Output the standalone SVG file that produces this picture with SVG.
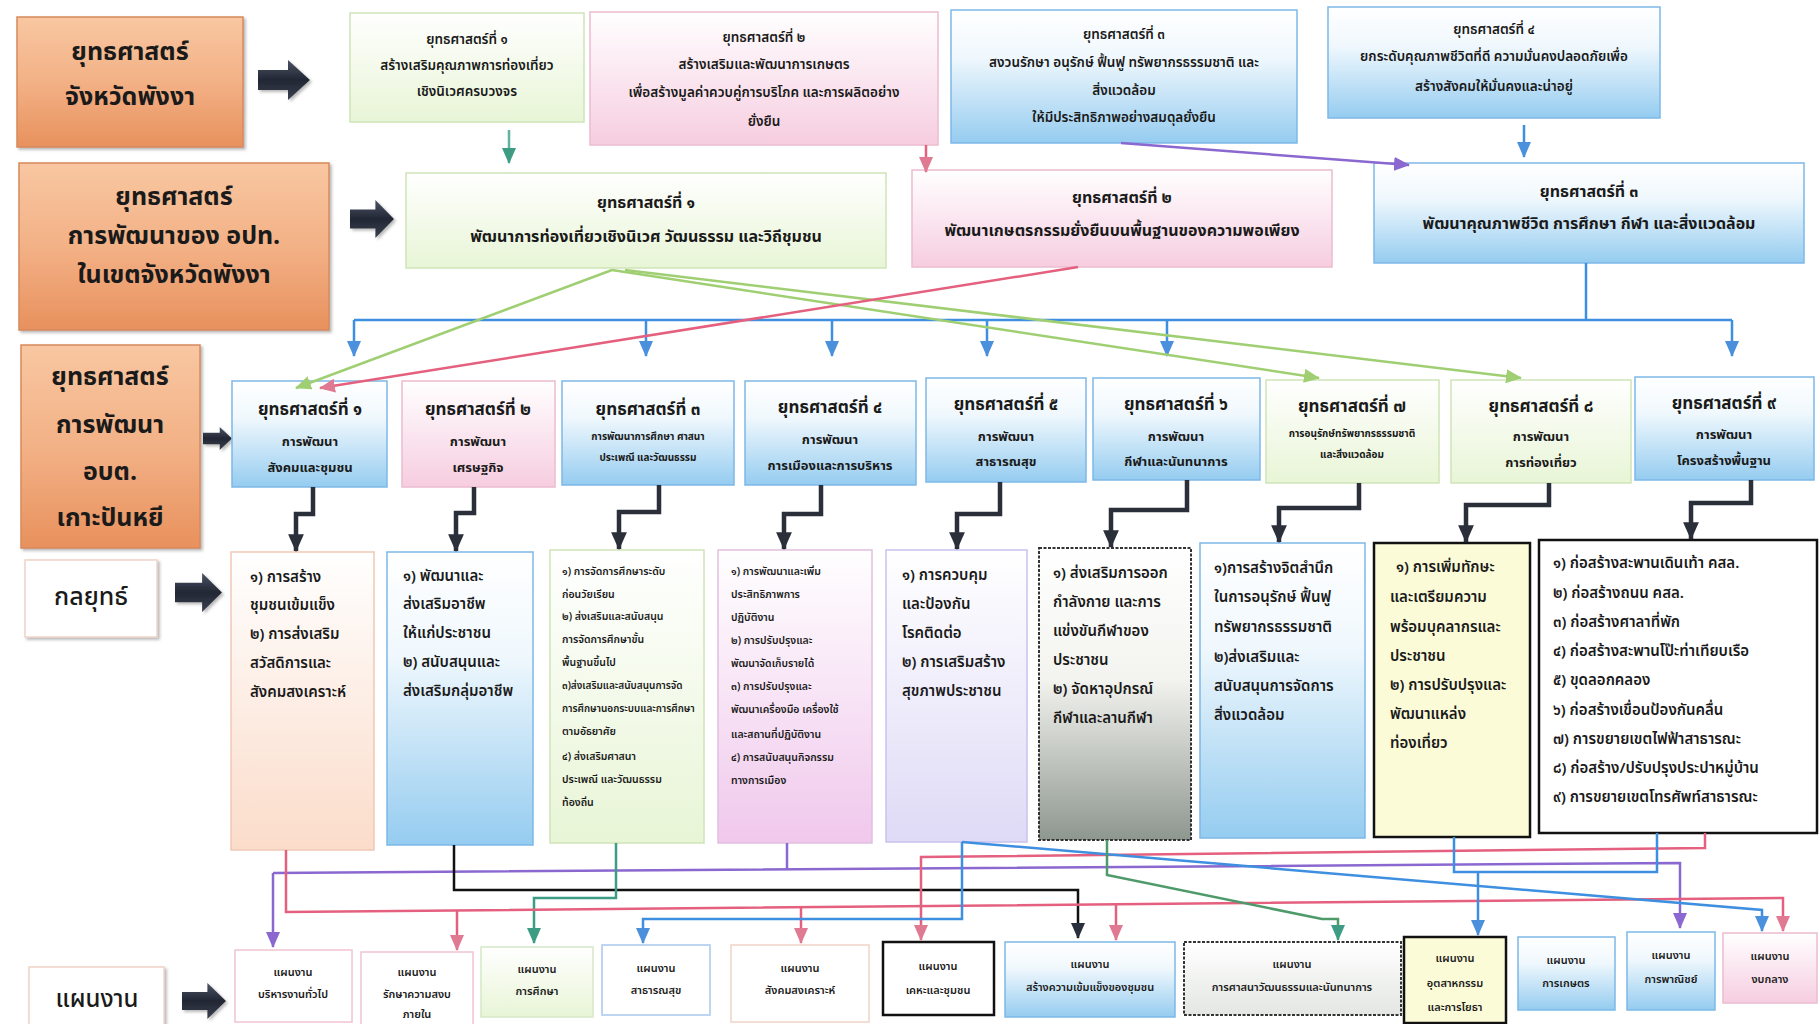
<svg xmlns="http://www.w3.org/2000/svg" width="1819" height="1024" viewBox="0 0 1819 1024">
<defs>
<style>
.t{font-family:"Noto Sans Thai","Noto Sans Thai UI","Sarabun","Loma","Garuda","Noto Sans","DejaVu Sans",sans-serif;fill:#1a1a1a;text-anchor:middle;dominant-baseline:central}
.l{text-anchor:start}
.big{font-size:25px;font-weight:bold}
.p{font-size:13.5px;font-weight:600}
.d{font-size:16px;font-weight:bold}
.st{font-size:17px;font-weight:bold}
.ss{font-size:13px;font-weight:bold}
.sx{font-size:10px;font-weight:bold}
.tx{font-size:15px;font-weight:600}
.tsm{font-size:10.5px;font-weight:600}
.bx{font-size:11px;font-weight:600}
.orange{fill:url(#gOrange);stroke:#d88a5c;stroke-width:1.5}
.blue{fill:url(#gBlue);stroke:#7db8e8;stroke-width:1.5}
.green{fill:url(#gGreen);stroke:#cfe4b8;stroke-width:1.5}
.pink{fill:url(#gPink);stroke:#ecbcd0;stroke-width:1.5}
.peach{fill:url(#gPeach);stroke:#efc9b4;stroke-width:1.5}
.lav{fill:url(#gLav);stroke:#c9c2ee;stroke-width:1.5}
.pinklav{fill:url(#gPinkLav);stroke:#e2bfe0;stroke-width:1.5}
.gray{fill:url(#gGray);stroke:#333;stroke-width:2;stroke-dasharray:3 1.5}
.grayl{fill:url(#gGrayL);stroke:#333;stroke-width:2;stroke-dasharray:3 1.5}
.yel{fill:#fbfbd8;stroke:#111;stroke-width:2.5}
.wb{fill:#fff;stroke:#111;stroke-width:2.5}
.wl{fill:#fff;stroke:#f0d4c8;stroke-width:1.5}
.wg{fill:url(#gGreen);stroke:#d6e8c8;stroke-width:1.5}
.wbl{fill:#fff;stroke:#a8c8f0;stroke-width:1.5}
.wpk{fill:#fff;stroke:#f0c4d0;stroke-width:1.5}
.c{fill:none;stroke-width:2.5}
.cb{stroke:#3f8fe0}
.cp{stroke:#e4607e}
.cg{stroke:#9fcf72}
.ct{stroke:#3e9c84}
.cv{stroke:#8a68d0}
.ck{stroke:#111}
.cdk{fill:none;stroke:#2b2f3a;stroke-width:4.5}
.arr{fill:url(#gArrow);filter:url(#sh)}
</style>
<linearGradient id="gOrange" x1="0" y1="0" x2="0" y2="1"><stop offset="0" stop-color="#f8c7a1"/><stop offset="0.5" stop-color="#f3b186"/><stop offset="1" stop-color="#e8915d"/></linearGradient>
<linearGradient id="gBlue" x1="0" y1="0" x2="0" y2="1"><stop offset="0" stop-color="#ffffff"/><stop offset="0.35" stop-color="#f0f8fd"/><stop offset="1" stop-color="#95ccf0"/></linearGradient>
<linearGradient id="gGreen" x1="0" y1="0" x2="0" y2="1"><stop offset="0" stop-color="#ffffff"/><stop offset="1" stop-color="#e8f5d6"/></linearGradient>
<linearGradient id="gPink" x1="0" y1="0" x2="0" y2="1"><stop offset="0" stop-color="#ffffff"/><stop offset="1" stop-color="#f6cde0"/></linearGradient>
<linearGradient id="gPeach" x1="0" y1="0" x2="0" y2="1"><stop offset="0" stop-color="#ffffff"/><stop offset="1" stop-color="#fbdcca"/></linearGradient>
<linearGradient id="gLav" x1="0" y1="0" x2="0" y2="1"><stop offset="0" stop-color="#ffffff"/><stop offset="1" stop-color="#dfdaf6"/></linearGradient>
<linearGradient id="gPinkLav" x1="0" y1="0" x2="0" y2="1"><stop offset="0" stop-color="#ffffff"/><stop offset="1" stop-color="#f0c8ec"/></linearGradient>
<linearGradient id="gGray" x1="0" y1="0" x2="0" y2="1"><stop offset="0" stop-color="#ffffff"/><stop offset="0.45" stop-color="#f3f3ef"/><stop offset="1" stop-color="#8e978f"/></linearGradient>
<linearGradient id="gGrayL" x1="0" y1="0" x2="0" y2="1"><stop offset="0" stop-color="#ffffff"/><stop offset="1" stop-color="#e3e6e2"/></linearGradient>
<linearGradient id="gArrow" x1="0" y1="0" x2="0" y2="1"><stop offset="0" stop-color="#4c5366"/><stop offset="0.5" stop-color="#222734"/><stop offset="1" stop-color="#3a4050"/></linearGradient>
<filter id="sh" x="-10%" y="-10%" width="130%" height="130%"><feDropShadow dx="2" dy="2" stdDeviation="1.5" flood-color="#888" flood-opacity="0.6"/></filter>
<symbol id="bigArrow" viewBox="0 0 52 40" preserveAspectRatio="none"><path d="M0,10 H30 V0 L52,20 L30,40 V30 H0 Z"/></symbol>
<marker id="mB" viewBox="0 0 16 14" refX="15" refY="7" markerWidth="16" markerHeight="14" markerUnits="userSpaceOnUse" orient="auto"><path d="M0,0 L16,7 L0,14 Z" fill="#4a90dc"/></marker>
<marker id="mP" viewBox="0 0 16 14" refX="15" refY="7" markerWidth="16" markerHeight="14" markerUnits="userSpaceOnUse" orient="auto"><path d="M0,0 L16,7 L0,14 Z" fill="#e07a92"/></marker>
<marker id="mG" viewBox="0 0 16 14" refX="15" refY="7" markerWidth="16" markerHeight="14" markerUnits="userSpaceOnUse" orient="auto"><path d="M0,0 L16,7 L0,14 Z" fill="#9fcf72"/></marker>
<marker id="mT" viewBox="0 0 16 14" refX="15" refY="7" markerWidth="16" markerHeight="14" markerUnits="userSpaceOnUse" orient="auto"><path d="M0,0 L16,7 L0,14 Z" fill="#3e9c84"/></marker>
<marker id="mV" viewBox="0 0 16 14" refX="15" refY="7" markerWidth="16" markerHeight="14" markerUnits="userSpaceOnUse" orient="auto"><path d="M0,0 L16,7 L0,14 Z" fill="#8a68d0"/></marker>
<marker id="mK" viewBox="0 0 16 14" refX="15" refY="7" markerWidth="16" markerHeight="14" markerUnits="userSpaceOnUse" orient="auto"><path d="M0,0 L16,7 L0,14 Z" fill="#2a2f3e"/></marker>
<marker id="mD" viewBox="0 0 16 14" refX="15" refY="7" markerWidth="18" markerHeight="16" markerUnits="userSpaceOnUse" orient="auto"><path d="M0,0 L16,7 L0,14 Z" fill="#2b2f3a"/></marker>
</defs>
<rect width="1819" height="1024" fill="#ffffff"/>

<!-- Row 1 -->
<g id="provLabel"><rect x="17" y="17" width="226" height="130" class="orange" filter="url(#sh)"/><text class="t big"><tspan x="130" y="52">ยุทธศาสตร์</tspan><tspan x="130" y="97">จังหวัดพังงา</tspan></text></g>
<use id="arrow1" href="#bigArrow" x="258" y="60" width="52" height="40" class="arr"/>
<g id="prov1"><rect x="350" y="13" width="234" height="109" class="green"/><text class="t p"><tspan x="467" y="40">ยุทธศาสตร์ที่ ๑</tspan><tspan x="467" y="66">สร้างเสริมคุณภาพการท่องเที่ยว</tspan><tspan x="467" y="92">เชิงนิเวศครบวงจร</tspan></text></g>
<g id="prov2"><rect x="590" y="12" width="348" height="133" class="pink"/><text class="t p"><tspan x="764" y="38">ยุทธศาสตร์ที่ ๒</tspan><tspan x="764" y="65">สร้างเสริมและพัฒนาการเกษตร</tspan><tspan x="764" y="93">เพื่อสร้างมูลค่าควบคู่การบริโภค และการผลิตอย่าง</tspan><tspan x="764" y="122">ยั่งยืน</tspan></text></g>
<g id="prov3"><rect x="951" y="10" width="346" height="133" class="blue"/><text class="t p"><tspan x="1124" y="35">ยุทธศาสตร์ที่ ๓</tspan><tspan x="1124" y="63">สงวนรักษา อนุรักษ์ ฟื้นฟู ทรัพยากรธรรมชาติ และ</tspan><tspan x="1124" y="91">สิ่งแวดล้อม</tspan><tspan x="1124" y="118">ให้มีประสิทธิภาพอย่างสมดุลยั่งยืน</tspan></text></g>
<g id="prov4"><rect x="1328" y="7" width="332" height="111" class="blue"/><text class="t p"><tspan x="1494" y="30">ยุทธศาสตร์ที่ ๔</tspan><tspan x="1494" y="57">ยกระดับคุณภาพชีวิตที่ดี ความมั่นคงปลอดภัยเพื่อ</tspan><tspan x="1494" y="87">สร้างสังคมให้มั่นคงและน่าอยู่</tspan></text></g>

<!-- Row 2 -->
<g id="lgoLabel"><rect x="19" y="163" width="310" height="167" class="orange" filter="url(#sh)"/><text class="t big"><tspan x="174" y="197">ยุทธศาสตร์</tspan><tspan x="174" y="236">การพัฒนาของ อปท.</tspan><tspan x="174" y="275">ในเขตจังหวัดพังงา</tspan></text></g>
<use id="arrow2" href="#bigArrow" x="350" y="200" width="44" height="38" class="arr"/>
<g id="lgo1"><rect x="406" y="173" width="480" height="95" class="green"/><text class="t d"><tspan x="646" y="203">ยุทธศาสตร์ที่ ๑</tspan><tspan x="646" y="237">พัฒนาการท่องเที่ยวเชิงนิเวศ วัฒนธรรม และวิถีชุมชน</tspan></text></g>
<g id="lgo2"><rect x="912" y="170" width="420" height="97" class="pink"/><text class="t d"><tspan x="1122" y="198">ยุทธศาสตร์ที่ ๒</tspan><tspan x="1122" y="231">พัฒนาเกษตรกรรมยั่งยืนบนพื้นฐานของความพอเพียง</tspan></text></g>
<g id="lgo3"><rect x="1374" y="163" width="430" height="100" class="blue"/><text class="t d"><tspan x="1589" y="192">ยุทธศาสตร์ที่ ๓</tspan><tspan x="1589" y="224">พัฒนาคุณภาพชีวิต การศึกษา กีฬา และสิ่งแวดล้อม</tspan></text></g>

<!-- Row 3 -->
<g id="sarLabel"><rect x="21" y="345" width="179" height="203" class="orange" filter="url(#sh)"/><text class="t big"><tspan x="110" y="377">ยุทธศาสตร์</tspan><tspan x="110" y="425">การพัฒนา</tspan><tspan x="110" y="472">อบต.</tspan><tspan x="110" y="518">เกาะปันหยี</tspan></text></g>
<use id="arrow3" href="#bigArrow" x="203" y="427" width="29" height="23" class="arr"/>
<g id="s1"><rect x="232" y="381" width="155" height="106" class="blue"/><text class="t"><tspan x="310" y="410" class="st">ยุทธศาสตร์ที่ ๑</tspan><tspan x="310" y="442" class="ss">การพัฒนา</tspan><tspan x="310" y="468" class="ss">สังคมและชุมชน</tspan></text></g>
<g id="s2"><rect x="402" y="381" width="153" height="106" class="pink"/><text class="t"><tspan x="478" y="410" class="st">ยุทธศาสตร์ที่ ๒</tspan><tspan x="478" y="442" class="ss">การพัฒนา</tspan><tspan x="478" y="468" class="ss">เศรษฐกิจ</tspan></text></g>
<g id="s3"><rect x="562" y="381" width="172" height="104" class="blue"/><text class="t"><tspan x="648" y="410" class="st">ยุทธศาสตร์ที่ ๓</tspan><tspan x="648" y="437" class="sx">การพัฒนาการศึกษา ศาสนา</tspan><tspan x="648" y="458" class="sx">ประเพณี และวัฒนธรรม</tspan></text></g>
<g id="s4"><rect x="745" y="381" width="171" height="104" class="blue"/><text class="t"><tspan x="830" y="408" class="st">ยุทธศาสตร์ที่ ๔</tspan><tspan x="830" y="440" class="ss">การพัฒนา</tspan><tspan x="830" y="466" class="ss">การเมืองและการบริหาร</tspan></text></g>
<g id="s5"><rect x="926" y="378" width="160" height="104" class="blue"/><text class="t"><tspan x="1006" y="405" class="st">ยุทธศาสตร์ที่ ๕</tspan><tspan x="1006" y="437" class="ss">การพัฒนา</tspan><tspan x="1006" y="462" class="ss">สาธารณสุข</tspan></text></g>
<g id="s6"><rect x="1093" y="378" width="167" height="102" class="blue"/><text class="t"><tspan x="1176" y="405" class="st">ยุทธศาสตร์ที่ ๖</tspan><tspan x="1176" y="437" class="ss">การพัฒนา</tspan><tspan x="1176" y="462" class="ss">กีฬาและนันทนาการ</tspan></text></g>
<g id="s7"><rect x="1266" y="380" width="173" height="103" class="green"/><text class="t"><tspan x="1352" y="407" class="st">ยุทธศาสตร์ที่ ๗</tspan><tspan x="1352" y="434" class="sx">การอนุรักษ์ทรัพยากรธรรมชาติ</tspan><tspan x="1352" y="455" class="sx">และสิ่งแวดล้อม</tspan></text></g>
<g id="s8"><rect x="1451" y="380" width="180" height="103" class="green"/><text class="t"><tspan x="1541" y="407" class="st">ยุทธศาสตร์ที่ ๘</tspan><tspan x="1541" y="437" class="ss">การพัฒนา</tspan><tspan x="1541" y="463" class="ss">การท่องเที่ยว</tspan></text></g>
<g id="s9"><rect x="1635" y="377" width="179" height="103" class="blue"/><text class="t"><tspan x="1724" y="404" class="st">ยุทธศาสตร์ที่ ๙</tspan><tspan x="1724" y="435" class="ss">การพัฒนา</tspan><tspan x="1724" y="461" class="ss">โครงสร้างพื้นฐาน</tspan></text></g>

<!-- Row 4 -->
<g id="tacLabel"><rect x="25" y="560" width="132" height="77" class="wl" filter="url(#sh)"/><text class="t" style="font-size:25px;font-weight:500"><tspan x="91" y="597">กลยุทธ์</tspan></text></g>
<use id="arrow4" href="#bigArrow" x="175" y="573" width="47" height="39" class="arr"/>
<g id="t1"><rect x="231" y="552" width="143" height="298" class="peach"/><text class="t l tx"><tspan x="250" y="577">๑) การสร้าง</tspan><tspan x="250" y="605">ชุมชนเข้มแข็ง</tspan><tspan x="250" y="634">๒) การส่งเสริม</tspan><tspan x="250" y="663">สวัสดิการและ</tspan><tspan x="250" y="692">สังคมสงเคราะห์</tspan></text></g>
<g id="t2"><rect x="387" y="552" width="146" height="293" class="blue"/><text class="t l tx"><tspan x="403" y="576">๑) พัฒนาและ</tspan><tspan x="403" y="604">ส่งเสริมอาชีพ</tspan><tspan x="403" y="633">ให้แก่ประชาชน</tspan><tspan x="403" y="662">๒) สนับสนุนและ</tspan><tspan x="403" y="691">ส่งเสริมกลุ่มอาชีพ</tspan></text></g>
<g id="t3"><rect x="550" y="550" width="154" height="293" class="green"/><text class="t l tsm"><tspan x="562" y="572">๑) การจัดการศึกษาระดับ</tspan><tspan x="562" y="595">ก่อนวัยเรียน</tspan><tspan x="562" y="617">๒) ส่งเสริมและสนับสนุน</tspan><tspan x="562" y="640">การจัดการศึกษาขั้น</tspan><tspan x="562" y="663">พื้นฐานขึ้นไป</tspan><tspan x="562" y="686" style="font-size:10px">๓)ส่งเสริมและสนับสนุนการจัด</tspan><tspan x="562" y="709" style="font-size:10px">การศึกษานอกระบบและการศึกษา</tspan><tspan x="562" y="732">ตามอัธยาศัย</tspan><tspan x="562" y="757">๔) ส่งเสริมศาสนา</tspan><tspan x="562" y="780">ประเพณี และวัฒนธรรม</tspan><tspan x="562" y="803">ท้องถิ่น</tspan></text></g>
<g id="t4"><rect x="718" y="550" width="154" height="293" class="pinklav"/><text class="t l tsm"><tspan x="731" y="572">๑) การพัฒนาและเพิ่ม</tspan><tspan x="731" y="595">ประสิทธิภาพการ</tspan><tspan x="731" y="618">ปฏิบัติงาน</tspan><tspan x="731" y="641">๒) การปรับปรุงและ</tspan><tspan x="731" y="664">พัฒนาจัดเก็บรายได้</tspan><tspan x="731" y="687">๓) การปรับปรุงและ</tspan><tspan x="731" y="710">พัฒนาเครื่องมือ เครื่องใช้</tspan><tspan x="731" y="735">และสถานที่ปฏิบัติงาน</tspan><tspan x="731" y="758">๔) การสนับสนุนกิจกรรม</tspan><tspan x="731" y="781">ทางการเมือง</tspan></text></g>
<g id="t5"><rect x="886" y="550" width="141" height="292" class="lav"/><text class="t l tx"><tspan x="902" y="575">๑) การควบคุม</tspan><tspan x="902" y="604">และป้องกัน</tspan><tspan x="902" y="633">โรคติดต่อ</tspan><tspan x="902" y="662">๒) การเสริมสร้าง</tspan><tspan x="902" y="691">สุขภาพประชาชน</tspan></text></g>
<g id="t6"><rect x="1039" y="548" width="152" height="292" class="gray"/><text class="t l tx"><tspan x="1053" y="573">๑) ส่งเสริมการออก</tspan><tspan x="1053" y="602">กำลังกาย และการ</tspan><tspan x="1053" y="631">แข่งขันกีฬาของ</tspan><tspan x="1053" y="660">ประชาชน</tspan><tspan x="1053" y="689">๒) จัดหาอุปกรณ์</tspan><tspan x="1053" y="718">กีฬาและลานกีฬา</tspan></text></g>
<g id="t7"><rect x="1200" y="543" width="165" height="295" class="blue"/><text class="t l tx"><tspan x="1214" y="568">๑)การสร้างจิตสำนึก</tspan><tspan x="1214" y="597">ในการอนุรักษ์ ฟื้นฟู</tspan><tspan x="1214" y="627">ทรัพยากรธรรมชาติ</tspan><tspan x="1214" y="657">๒)ส่งเสริมและ</tspan><tspan x="1214" y="686">สนับสนุนการจัดการ</tspan><tspan x="1214" y="715">สิ่งแวดล้อม</tspan></text></g>
<g id="t8"><rect x="1374" y="543" width="156" height="294" class="yel"/><text class="t l tx"><tspan x="1396" y="567">๑) การเพิ่มทักษะ</tspan><tspan x="1390" y="597">และเตรียมความ</tspan><tspan x="1390" y="627">พร้อมบุคลากรและ</tspan><tspan x="1390" y="656">ประชาชน</tspan><tspan x="1390" y="685">๒) การปรับปรุงและ</tspan><tspan x="1390" y="714">พัฒนาแหล่ง</tspan><tspan x="1390" y="743">ท่องเที่ยว</tspan></text></g>
<g id="t9"><rect x="1539" y="540" width="278" height="293" class="wb"/><text class="t l tx"><tspan x="1553" y="563">๑) ก่อสร้างสะพานเดินเท้า คสล.</tspan><tspan x="1553" y="593">๒) ก่อสร้างถนน คสล.</tspan><tspan x="1553" y="622">๓) ก่อสร้างศาลาที่พัก</tspan><tspan x="1553" y="651">๔) ก่อสร้างสะพานโป๊ะท่าเทียบเรือ</tspan><tspan x="1553" y="680">๕) ขุดลอกคลอง</tspan><tspan x="1553" y="710">๖) ก่อสร้างเขื่อนป้องกันคลื่น</tspan><tspan x="1553" y="739">๗) การขยายเขตไฟฟ้าสาธารณะ</tspan><tspan x="1553" y="768">๘) ก่อสร้าง/ปรับปรุงประปาหมู่บ้าน</tspan><tspan x="1553" y="797">๙) การขยายเขตโทรศัพท์สาธารณะ</tspan></text></g>

<!-- Row 5 -->
<g id="planLabel"><rect x="29" y="967" width="135" height="62" class="wl" filter="url(#sh)"/><text class="t" style="font-size:24px;font-weight:500"><tspan x="97" y="1000">แผนงาน</tspan></text></g>
<use id="arrow5" href="#bigArrow" x="182" y="983" width="44" height="36" class="arr"/>
<g id="b1"><rect x="235" y="950" width="117" height="72" class="wpk"/><text class="t bx"><tspan x="293" y="972">แผนงาน</tspan><tspan x="293" y="994">บริหารงานทั่วไป</tspan></text></g>
<g id="b2"><rect x="361" y="952" width="112" height="76" class="wpk"/><text class="t bx"><tspan x="417" y="972">แผนงาน</tspan><tspan x="417" y="994">รักษาความสงบ</tspan><tspan x="417" y="1014">ภายใน</tspan></text></g>
<g id="b3"><rect x="481" y="947" width="112" height="70" class="wg"/><text class="t bx"><tspan x="537" y="969">แผนงาน</tspan><tspan x="537" y="991">การศึกษา</tspan></text></g>
<g id="b4"><rect x="602" y="945" width="108" height="70" class="wbl"/><text class="t bx"><tspan x="656" y="968">แผนงาน</tspan><tspan x="656" y="990">สาธารณสุข</tspan></text></g>
<g id="b5"><rect x="731" y="945" width="138" height="77" class="wl"/><text class="t bx"><tspan x="800" y="968">แผนงาน</tspan><tspan x="800" y="990">สังคมสงเคราะห์</tspan></text></g>
<g id="b6"><rect x="883" y="942" width="111" height="73" class="wb"/><text class="t bx"><tspan x="938" y="966">แผนงาน</tspan><tspan x="938" y="990">เคหะและชุมชน</tspan></text></g>
<g id="b7"><rect x="1005" y="942" width="170" height="75" class="blue"/><text class="t bx"><tspan x="1090" y="964">แผนงาน</tspan><tspan x="1090" y="987">สร้างความเข้มแข็งของชุมชน</tspan></text></g>
<g id="b8"><rect x="1184" y="942" width="217" height="73" class="grayl"/><text class="t bx"><tspan x="1292" y="964">แผนงาน</tspan><tspan x="1292" y="987">การศาสนาวัฒนธรรมและนันทนาการ</tspan></text></g>
<g id="b9"><rect x="1404" y="937" width="102" height="86" class="yel"/><text class="t bx"><tspan x="1455" y="958">แผนงาน</tspan><tspan x="1455" y="983">อุตสาหกรรม</tspan><tspan x="1455" y="1007">และการโยธา</tspan></text></g>
<g id="b10"><rect x="1518" y="937" width="97" height="73" class="blue"/><text class="t bx"><tspan x="1566" y="960">แผนงาน</tspan><tspan x="1566" y="983">การเกษตร</tspan></text></g>
<g id="b11"><rect x="1627" y="932" width="88" height="78" class="blue"/><text class="t bx"><tspan x="1671" y="955">แผนงาน</tspan><tspan x="1671" y="979">การพาณิชย์</tspan></text></g>
<g id="b12"><rect x="1723" y="933" width="94" height="70" class="pink"/><text class="t bx"><tspan x="1770" y="956">แผนงาน</tspan><tspan x="1770" y="979">งบกลาง</tspan></text></g>

<!-- Connectors -->
<g id="connectors">
<path class="c" stroke="#5fb3a0" d="M509,130 V163" marker-end="url(#mT)"/>
<path class="c cp" d="M926,145 V172" marker-end="url(#mP)"/>
<path class="c cv" d="M1121,143 L1409,165" marker-end="url(#mV)"/>
<path class="c cb" d="M1524,125 V157" marker-end="url(#mB)"/>
<path class="c cb" d="M1586,263 V320 M354,320 H1732"/>
<path class="c cb" d="M354,320 V356" marker-end="url(#mB)"/>
<path class="c cb" d="M646,320 V356" marker-end="url(#mB)"/>
<path class="c cb" d="M832,320 V356" marker-end="url(#mB)"/>
<path class="c cb" d="M987,320 V356" marker-end="url(#mB)"/>
<path class="c cb" d="M1167,320 V356" marker-end="url(#mB)"/>
<path class="c cb" d="M1732,320 V356" marker-end="url(#mB)"/>
<path class="c cg" d="M612,270 L296,388" marker-end="url(#mG)"/>
<path class="c cg" d="M612,270 L1319,378" marker-end="url(#mG)"/>
<path class="c cg" d="M625,270 L1521,378" marker-end="url(#mG)"/>
<path class="c cp" d="M1078,267 L320,388" marker-end="url(#mP)"/>
<path class="cdk" d="M313,487 V514 H296 V551" marker-end="url(#mD)"/>
<path class="cdk" d="M474,487 V513 H456 V551" marker-end="url(#mD)"/>
<path class="cdk" d="M659,485 V512 H619 V549" marker-end="url(#mD)"/>
<path class="cdk" d="M821,485 V514 H784 V549" marker-end="url(#mD)"/>
<path class="cdk" d="M1000,482 V514 H957 V549" marker-end="url(#mD)"/>
<path class="cdk" d="M1187,480 V510 H1111 V547" marker-end="url(#mD)"/>
<path class="cdk" d="M1359,483 V508 H1279 V542" marker-end="url(#mD)"/>
<path class="cdk" d="M1549,483 V505 H1466 V542" marker-end="url(#mD)"/>
<path class="cdk" d="M1751,480 V503 H1691 V539" marker-end="url(#mD)"/>
<path class="c cv" d="M787,843 V870"/>
<path class="c cv" d="M273,873 V947" marker-end="url(#mV)"/>
<path class="c cv" d="M273,873 L1680,863 V928" marker-end="url(#mV)"/>
<path class="c ck" d="M454,845 V890 H1078 V938" marker-end="url(#mK)"/>
<path class="c ct" d="M616,843 V898 H534 V943" marker-end="url(#mT)"/>
<path class="c cp" d="M286,850 V912 L1783,898 V931" marker-end="url(#mP)"/>
<path class="c cp" d="M457,910 V950" marker-end="url(#mP)"/>
<path class="c cp" d="M801,907 V943" marker-end="url(#mP)"/>
<path class="c cp" d="M1116,904 V940" marker-end="url(#mP)"/>
<path class="c cp" d="M1705,833 V848 L921,857 V940" marker-end="url(#mP)"/>
<path class="c cb" d="M962,842 V919 H643 V943" marker-end="url(#mB)"/>
<path class="c cb" d="M962,842 L1762,910 V931" marker-end="url(#mB)"/>
<path class="c cb" d="M1454,837 V872 H1657 V833"/>
<path class="c cb" d="M1478,872 V935" marker-end="url(#mB)"/>
<path class="c" stroke="#4f9a6a" d="M1107,840 V875 L1322,919 H1338 V940" marker-end="url(#mT)"/>
</g>
</svg>
